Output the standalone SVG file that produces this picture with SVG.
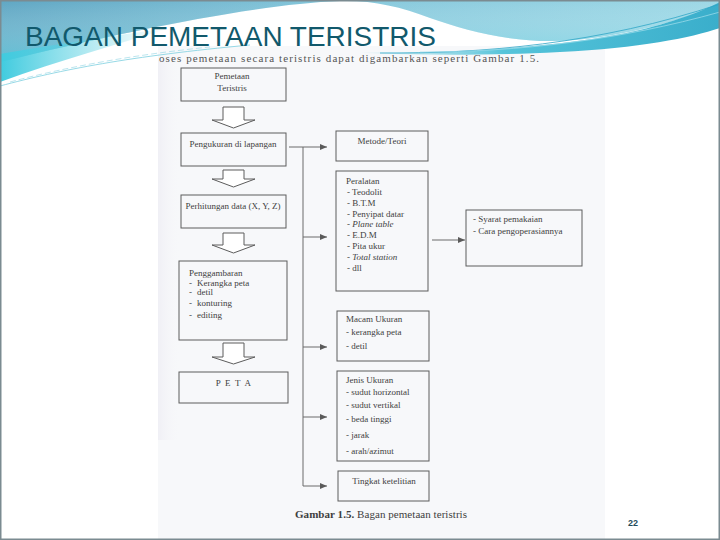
<svg xmlns="http://www.w3.org/2000/svg" width="720" height="540" viewBox="0 0 720 540">
<defs>
<style>
.box{fill:none;stroke:#5c5c5c;stroke-width:1}
.t{font-family:"Liberation Serif","DejaVu Serif",serif;font-size:9px;fill:#3e3e3e}
.c{text-anchor:middle}
.i{font-style:italic}
.conn{stroke:#6a6a6a;stroke-width:1;fill:none}
.harrow{fill:#ffffff;stroke:#5c5c5c;stroke-width:1}
</style>
<linearGradient id="gBlue" x1="0" y1="0" x2="1" y2="0">
<stop offset="0" stop-color="#5ea6c3"/>
<stop offset="0.5" stop-color="#86c8dc"/>
<stop offset="1" stop-color="#9dd8e6"/>
</linearGradient>
<linearGradient id="gBlueV" x1="0" y1="0" x2="0" y2="1">
<stop offset="0" stop-color="#ffffff" stop-opacity="0"/>
<stop offset="1" stop-color="#5ad2e2" stop-opacity="0.55"/>
</linearGradient>
<linearGradient id="gCyanL" x1="0" y1="0" x2="1" y2="0">
<stop offset="0" stop-color="#3fcbdf"/>
<stop offset="1" stop-color="#7fd9e6" stop-opacity="0"/>
</linearGradient>
<linearGradient id="gCyanR" x1="0" y1="0" x2="1" y2="0">
<stop offset="0" stop-color="#63c9dc" stop-opacity="0"/>
<stop offset="0.4" stop-color="#55c4da"/>
<stop offset="1" stop-color="#3aaecb"/>
</linearGradient>
<linearGradient id="gStrip" x1="0" y1="0" x2="1" y2="0">
<stop offset="0" stop-color="#ebeaf2"/>
<stop offset="1" stop-color="#f6f7fa" stop-opacity="0"/>
</linearGradient>
<clipPath id="introClip"><rect x="158" y="55" width="447" height="20"/></clipPath>
<marker id="ah" markerWidth="7" markerHeight="6" refX="7" refY="3" orient="auto" markerUnits="userSpaceOnUse">
<path d="M0,0 L7,3 L0,6 Z" fill="#5a5a5a"/>
</marker>
</defs>

<!-- slide background -->
<rect x="0" y="0" width="720" height="540" fill="#ffffff"/>

<!-- scanned page -->
<g id="scan">
<rect x="158" y="46" width="447" height="494" fill="#f7f8fa"/>
<rect x="158" y="60" width="22" height="380" fill="url(#gStrip)" opacity="0.6"/>
<text x="159" y="62" clip-path="url(#introClip)" font-family="'Liberation Serif','DejaVu Serif',serif" font-size="11" fill="#555" textLength="380" lengthAdjust="spacing">oses pemetaan secara teristris dapat digambarkan seperti Gambar 1.5.</text>
</g>

<!-- header wave -->
<g id="wave">
<path d="M0,0 H720 V6 C690,16 640,34 575,40 C520,45 470,32 430,18 C400,6 370,0 340,1 C260,4 130,30 0,62 Z" fill="url(#gBlue)"/>
<path d="M0,0 H720 V6 C690,16 640,34 575,40 C520,45 470,32 430,18 C400,6 370,0 340,1 C260,4 130,30 0,62 Z" fill="url(#gBlueV)"/>
<path d="M0,54 C60,44 110,36 170,28 C120,44 60,60 0,82 Z" fill="url(#gCyanL)"/>
<path d="M0,86 C60,70 130,56 250,45" fill="none" stroke="#7ccfe0" stroke-width="0.8"/>
<path d="M10,82 C70,66 140,54 210,47" fill="none" stroke="#8fd3e3" stroke-width="0.6" stroke-dasharray="6 3"/>
<path d="M360,52 C450,54 560,48 640,30 C680,20 705,10 720,2 V28 C690,38 640,48 560,52 C480,56 420,55 360,53 Z" fill="url(#gCyanR)"/>
<path d="M380,53 C480,54 600,44 720,4" fill="none" stroke="#2fa6c6" stroke-width="0.8"/>
<path d="M420,52 C520,52 620,40 720,12" fill="none" stroke="#a5e0ec" stroke-width="0.7"/>
</g>

<rect x="0.75" y="0.75" width="718.5" height="538.5" fill="none" stroke="#7b8b91" stroke-width="1.5"/>

<text id="title" x="25" y="46" font-family="'Liberation Sans',Arial,sans-serif" font-size="27" fill="#11596c" textLength="411" lengthAdjust="spacingAndGlyphs">BAGAN PEMETAAN TERISTRIS</text>

<!-- connectors -->
<g id="connectors">
<path class="conn" d="M289,147 H303 V486 H327" marker-end="url(#ah)"/>
<path class="conn" d="M303,147 H327" marker-end="url(#ah)"/>
<path class="conn" d="M303,237 H327" marker-end="url(#ah)"/>
<path class="conn" d="M303,347 H327" marker-end="url(#ah)"/>
<path class="conn" d="M303,417 H327" marker-end="url(#ah)"/>
<path class="conn" d="M432,240 H465" marker-end="url(#ah)"/>
<path class="harrow" d="M223,107 H244 V120 H255 L233.5,128 L212,120 H223 Z"/>
<path class="harrow" d="M223,170 H244 V179 H255 L233.5,187 L212,179 H223 Z"/>
<path class="harrow" d="M223,233 H244 V245 H255 L233.5,253 L212,245 H223 Z"/>
<path class="harrow" d="M223,343 H244 V357 H255 L233.5,364 L212,357 H223 Z"/>
</g>

<!-- nodes -->
<g id="n-pemetaan">
<rect class="box" x="181" y="68" width="105" height="33"/>
<text class="t c" x="232" y="78.5">Pemetaan</text>
<text class="t c" x="232" y="91">Teristris</text>
</g>
<g id="n-pengukuran">
<rect class="box" x="181" y="133" width="105" height="33"/>
<text class="t c" x="233" y="147">Pengukuran di lapangan</text>
</g>
<g id="n-perhitungan">
<rect class="box" x="181" y="195" width="105" height="33"/>
<text class="t c" x="233" y="208.5">Perhitungan data (X, Y, Z)</text>
</g>
<g id="n-penggambaran">
<rect class="box" x="179" y="261" width="108" height="79"/>
<text class="t" x="189" y="276">Penggambaran</text>
<text class="t" x="189" y="285.5">-</text><text class="t" x="197" y="285.5">Kerangka peta</text>
<text class="t" x="189" y="295">-</text><text class="t" x="197" y="295">detil</text>
<text class="t" x="189" y="306">-</text><text class="t" x="197" y="306">konturing</text>
<text class="t" x="189" y="317.5">-</text><text class="t" x="197" y="317.5">editing</text>
</g>
<g id="n-peta">
<rect class="box" x="179" y="372" width="109" height="31"/>
<text class="t c" x="234" y="386" font-size="8" letter-spacing="1.2">P E T A</text>
</g>
<g id="n-metode">
<rect class="box" x="336" y="131" width="92" height="30"/>
<text class="t c" x="382" y="144">Metode/Teori</text>
</g>
<g id="n-peralatan">
<rect class="box" x="336" y="171" width="92" height="120"/>
<text class="t" x="346" y="184">Peralatan</text>
<text class="t" x="347" y="195.3">- Teodolit</text>
<text class="t" x="347" y="206">- B.T.M</text>
<text class="t" x="347" y="216.7">- Penyipat datar</text>
<text class="t" x="347" y="227.3">- <tspan class="i">Plane table</tspan></text>
<text class="t" x="347" y="238.3">- E.D.M</text>
<text class="t" x="347" y="249">- Pita ukur</text>
<text class="t" x="347" y="260">- <tspan class="i">Total station</tspan></text>
<text class="t" x="347" y="271.3">- dll</text>
</g>
<g id="n-syarat">
<rect class="box" x="466" y="210" width="116" height="56"/>
<text class="t" x="473" y="222">- Syarat pemakaian</text>
<text class="t" x="473" y="234.3">- Cara pengoperasiannya</text>
</g>
<g id="n-macam">
<rect class="box" x="337" y="311" width="92" height="50"/>
<text class="t" x="346" y="322.3">Macam Ukuran</text>
<text class="t" x="346" y="335.3">- kerangka peta</text>
<text class="t" x="346" y="349">- detil</text>
</g>
<g id="n-jenis">
<rect class="box" x="337" y="371" width="92" height="90"/>
<text class="t" x="346" y="382.7">Jenis Ukuran</text>
<text class="t" x="346" y="395.3">- sudut horizontal</text>
<text class="t" x="346" y="408.3">- sudut vertikal</text>
<text class="t" x="346" y="421.7">- beda tinggi</text>
<text class="t" x="346" y="438">- jarak</text>
<text class="t" x="346" y="454">- arah/azimut</text>
</g>
<g id="n-tingkat">
<rect class="box" x="338" y="471" width="91" height="30"/>
<text class="t c" x="384" y="483.5">Tingkat ketelitian</text>
</g>

<text id="caption" x="295" y="518" font-family="'Liberation Serif','DejaVu Serif',serif" font-size="11" fill="#3e3e3e" textLength="172" lengthAdjust="spacing"><tspan font-weight="bold">Gambar 1.5.</tspan> Bagan pemetaan teristris</text>

<text id="page" x="628" y="526" font-family="'Liberation Sans',Arial,sans-serif" font-size="9" font-weight="bold" fill="#1f4c5a">22</text>
</svg>
